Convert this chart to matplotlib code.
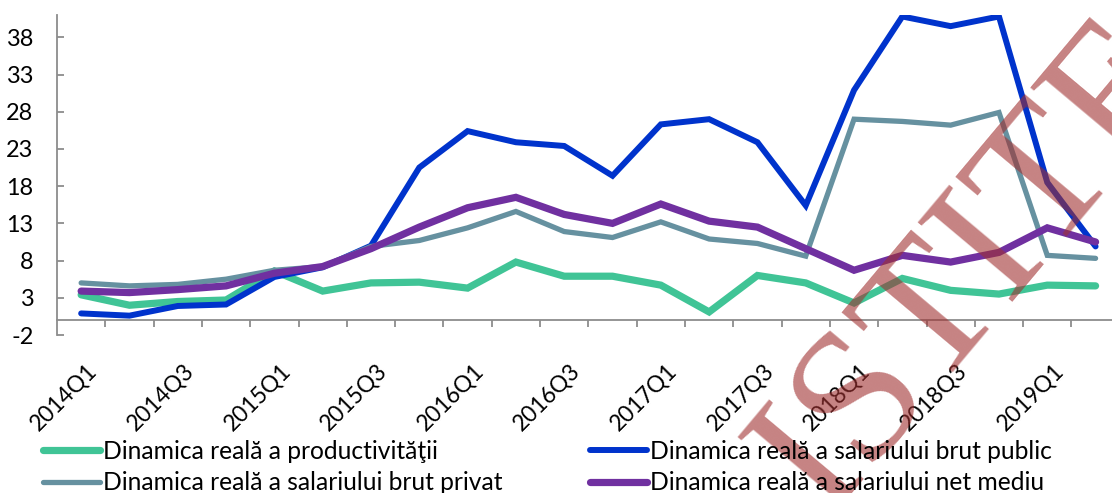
import numpy as np
import matplotlib.pyplot as plt

plt.rcParams['font.family'] = ['Lato', 'DejaVu Sans']
plt.rcParams['axes.unicode_minus'] = False

# trimestre 2014Q1 .. 2019Q2
quarters = [f"{y}Q{q}" for y in range(2014, 2020) for q in range(1, 5)][:22]

productivitate = [3.4, 2.0, 2.5, 2.7, 6.6, 3.9, 5.0, 5.1, 4.3, 7.8, 5.9,
                  5.9, 4.7, 1.1, 6.0, 5.0, 2.3, 5.6, 4.0, 3.5, 4.7, 4.6]
brut_public = [0.9, 0.6, 1.9, 2.1, 5.8, 7.1, 10.0, 20.5, 25.4, 23.9, 23.4,
               19.4, 26.3, 27.0, 23.9, 15.4, 30.9, 40.8, 39.5, 40.8, 18.5, 9.9]
brut_privat = [5.0, 4.6, 4.8, 5.5, 6.7, 7.2, 9.9, 10.7, 12.4, 14.6, 11.9,
               11.1, 13.2, 10.9, 10.3, 8.6, 27.0, 26.7, 26.2, 27.9, 8.7, 8.3]
net_mediu = [3.9, 3.7, 4.1, 4.6, 6.3, 7.2, 9.6, 12.5, 15.1, 16.5, 14.2,
             13.0, 15.6, 13.3, 12.5, 9.6, 6.7, 8.7, 7.8, 9.1, 12.4, 10.5]

labels = ["Dinamica reală a productivităţii",
          "Dinamica reală a salariului brut public",
          "Dinamica reală a salariului brut privat",
          "Dinamica reală a salariului net mediu"]
colors = ["#40C496", "#0033CC", "#6691A0", "#7030A0"]
widths = [5.2, 4.3, 3.8, 5.2]

fig = plt.figure(figsize=(11.12, 4.93), dpi=100)
renderer = fig.canvas.get_renderer()

# legend font size so that the first label is ~337 px wide, like the original
t = fig.text(0, 0, labels[0], fontsize=20)
fs_leg = 20 * 337 / t.get_window_extent(renderer=renderer).width
t.remove()
fs_y = 0.95 * fs_leg
fs_x = 0.92 * fs_leg

ax = fig.add_axes([57 / 1112, 158 / 493, 1 - 57 / 1112, 320 / 493])

x = np.arange(len(quarters))
lines = []
for vals, lab, c, w in zip([productivitate, brut_public, brut_privat, net_mediu],
                           labels, colors, widths):
    ln, = ax.plot(x, vals, color=c, lw=w, label=lab,
                  solid_capstyle='round', solid_joinstyle='miter')
    lines.append(ln)

ax.set_xlim(-0.5, 21.34)
ax.set_ylim(-2, 41)

axis_c = '#8C8C8C'
for s in ['top', 'right']:
    ax.spines[s].set_visible(False)
ax.spines['left'].set_color(axis_c)
ax.spines['left'].set_linewidth(1.3)
ax.spines['bottom'].set_color(axis_c)
ax.spines['bottom'].set_linewidth(1.3)
ax.spines['bottom'].set_position(('data', 0))

ax.set_yticks(np.arange(-2, 39, 5))
ax.tick_params(axis='y', direction='in', length=5, width=1.3, color=axis_c,
               labelsize=fs_y, pad=17)

# tick marks between categories
ax.set_xticks(np.arange(0.5, 21.5, 1))
ax.set_xticklabels([])
ax.tick_params(axis='x', direction='out', length=5, width=1.3, color=axis_c)

# category labels every second quarter, placed under the plot area
for i in x[::2]:
    ax.text(i + 0.11, -0.078, quarters[i], transform=ax.get_xaxis_transform(),
            rotation=45, ha='right', va='top', rotation_mode='anchor',
            fontsize=fs_x)

# legend in two rows, drawn as two columns
leg_kw = dict(loc='upper left', frameon=False, fontsize=fs_leg,
              handlelength=57 / (fs_leg * 100 / 72), handletextpad=0.12,
              borderpad=0, borderaxespad=0, labelspacing=0.33)
fig.legend(handles=[lines[0], lines[2]],
           bbox_to_anchor=(43 / 1112, 1 - 440 / 493), **leg_kw)
fig.legend(handles=[lines[1], lines[3]],
           bbox_to_anchor=(590 / 1112, 1 - 440 / 493), **leg_kw)

# watermark
fig.text(975 / 1112, 1 - 268 / 493, "ISTITE", fontsize=135,
         family='Liberation Serif', color='#A03030', alpha=0.6, rotation=50,
         ha='center', va='center')

fig.savefig('out.png', dpi=100)
